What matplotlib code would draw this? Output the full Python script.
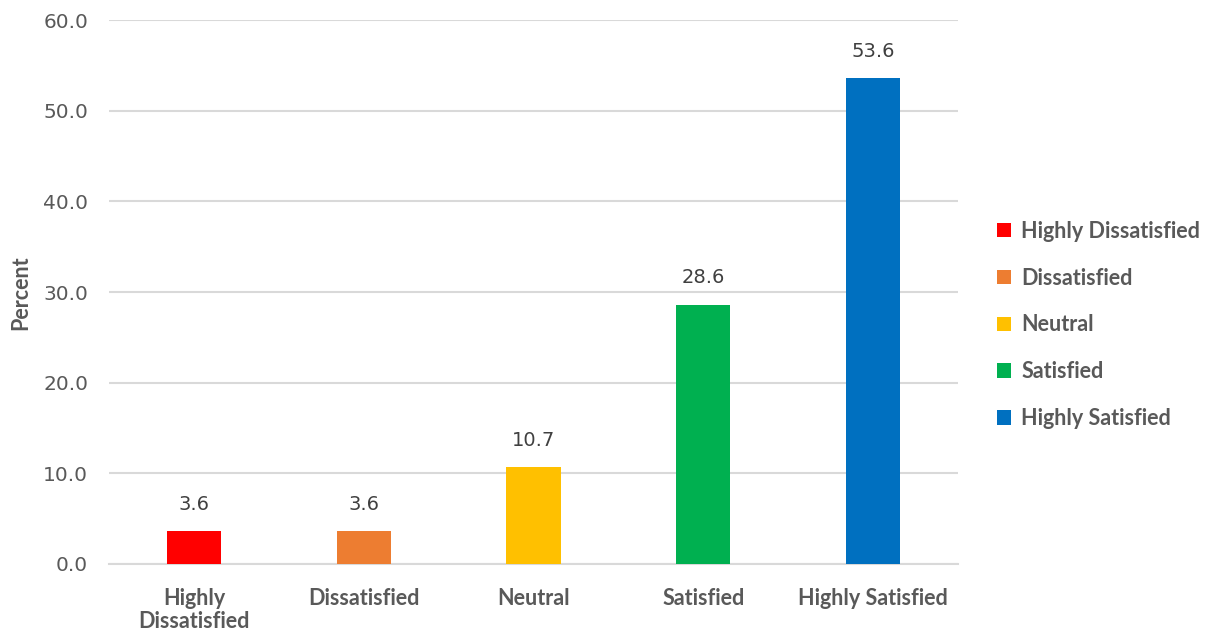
import matplotlib
matplotlib.use("Agg")
import matplotlib.pyplot as plt
from matplotlib.patches import Patch

categories = ["Highly Dissatisfied", "Dissatisfied", "Neutral", "Satisfied", "Highly Satisfied"]
tick_labels = ["Highly\nDissatisfied", "Dissatisfied", "Neutral", "Satisfied", "Highly Satisfied"]
percent = [3.6, 3.6, 10.7, 28.6, 53.6]
colors = ["#FF0000", "#ED7D31", "#FFC000", "#00B050", "#0070C0"]
yticks = [0, 10, 20, 30, 40, 50, 60]

fig = plt.figure(figsize=(12.09, 6.37), dpi=100)
ax = fig.add_axes([0.0902, 0.1146, 0.7022, 0.854])

x = range(len(categories))
bars = ax.bar(x, percent, width=0.32, color=colors, zorder=3)

for b, v in zip(bars, percent):
    ax.text(b.get_x() + b.get_width() / 2, v + 1.9, "%.1f" % v,
            ha="center", va="bottom", fontsize=14, color="#404040",
            family="DejaVu Sans")

ax.set_xlim(-0.5, 4.5)
ax.set_ylim(0, 60)
ax.set_yticks(yticks)
ax.set_yticklabels(["%.1f" % t for t in yticks], fontsize=14.5, color="#595959",
                   family="DejaVu Sans")
ax.set_xticks(list(x))
ax.set_xticklabels(tick_labels, fontsize=15.5, fontweight="bold", color="#595959",
                   family="Lato", linespacing=1.15)
ax.tick_params(axis="both", length=0)
ax.tick_params(axis="x", pad=17)
ax.tick_params(axis="y", pad=15)

ax.grid(axis="y", color="#D9D9D9", linewidth=1.5, zorder=0)
for s in ["top", "right", "left"]:
    ax.spines[s].set_visible(False)
ax.spines["bottom"].set_color("#D9D9D9")
ax.spines["bottom"].set_linewidth(1.5)

fig.text(0.017, 0.541, "Percent", rotation=90, ha="center", va="center",
         fontsize=15.5, fontweight="bold", color="#595959", family="Lato")

handles = [Patch(facecolor=c, edgecolor="none") for c in colors]
leg = fig.legend(handles, categories, loc="center left", bbox_to_anchor=(0.809, 0.490),
                 frameon=False, handlelength=0.65, handleheight=0.65,
                 handletextpad=0.45, labelspacing=1.2,
                 prop={"family": "Lato", "weight": "bold", "size": 15.5})
for t in leg.get_texts():
    t.set_color("#595959")

fig.savefig("out.png", dpi=100)
